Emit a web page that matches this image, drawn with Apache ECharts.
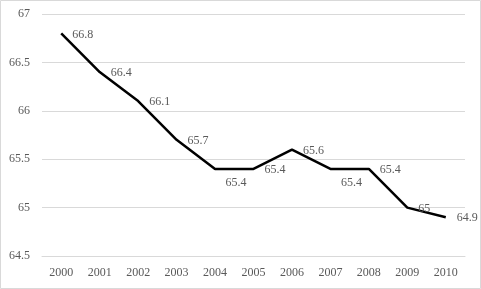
<!DOCTYPE html>
<html>
  <head>
    <meta charset="utf-8" />
    <title>chart</title>
    <style>
      html, body { margin: 0; padding: 0; background: #fff; }
    </style>
  </head>
  <body>
    <script type="text/javascript" src="https://cdn.jsdelivr.net/npm/echarts@6/dist/echarts.min.js"></script>

    <div id="container" style="width: 481px;height: 289px;"></div>

    <script type="text/javascript">
    // 数据
    var years = ['2000', '2001', '2002', '2003', '2004', '2005', '2006', '2007', '2008', '2009', '2010'];
    var values = [66.8, 66.4, 66.1, 65.7, 65.4, 65.4, 65.6, 65.4, 65.4, 65.0, 64.9];
    var yTicks = [64.5, 65, 65.5, 66, 66.5, 67];

    // 标签被挪到下方的点
    var belowLabels = [4, 7];

    var font = '"Liberation Serif", "DejaVu Serif", serif';
    var grey = '#595959';

    var seriesData = values.map(function (v, i) {
        var item = { value: v };
        if (belowLabels.indexOf(i) >= 0) {
            item.label = { position: 'bottom', offset: [21, -2] };
        }
        return item;
    });

    var myChart = echarts.init(document.getElementById('container'));
    var option = {
        animation: false,
        graphic: [{
            type: 'rect',
            shape: { x: 0.5, y: 0.5, width: 480, height: 288 },
            style: { fill: 'none', stroke: '#d9d9d9', lineWidth: 1 },
            silent: true
        }],
        grid: { left: 42, right: 16, top: 14, bottom: 33 },
        xAxis: {
            type: 'category',
            data: years,
            boundaryGap: true,
            axisLine: { lineStyle: { color: '#d9d9d9' } },
            axisTick: { show: false },
            axisLabel: { color: grey, fontFamily: font, fontSize: 12, margin: 11 }
        },
        yAxis: {
            type: 'value',
            min: yTicks[0],
            max: yTicks[yTicks.length - 1],
            interval: 0.5,
            axisLine: { show: false },
            axisTick: { show: false },
            splitLine: { lineStyle: { color: '#d9d9d9' } },
            axisLabel: { color: grey, fontFamily: font, fontSize: 12, margin: 12 }
        },
        series: [{
            type: 'line',
            data: seriesData,
            symbol: 'circle',
            symbolSize: 0,
            showSymbol: true,
            itemStyle: { color: '#000' },
            lineStyle: { color: '#000', width: 2.5 },
            label: {
                show: true,
                position: 'right',
                distance: 10,
                offset: [1, 1],
                color: grey,
                fontFamily: font,
                fontSize: 12
            }
        }]
    };
    myChart.setOption(option);

    window.addEventListener('resize', myChart.resize);
    </script>
  </body>
</html>
